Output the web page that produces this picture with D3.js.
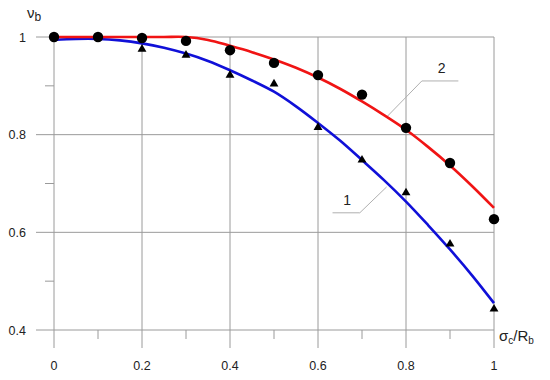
<!DOCTYPE html>
<html>
<head>
<meta charset="utf-8">
<script src="https://cdn.jsdelivr.net/npm/d3@7"></script>
<style>
  body { margin: 0; background: #fff; }
  svg text { font-family: "Liberation Sans", Arial, sans-serif; fill: #222; }
</style>
</head>
<body>
<div id="graf"></div>
<script>
// datos
xTicks = [0, 0.2, 0.4, 0.6, 0.8, 1]
xTickLabels = ['0', '0.2', '0.4', '0.6', '0.8', '1']
xMinor = [0.1, 0.3, 0.5, 0.7, 0.9]
yTicks = [0.4, 0.6, 0.8, 1]
yTickLabels = ['0.4', '0.6', '0.8', '1']
yMinor = [0.5, 0.7, 0.9]

// puntos experimentales
circX = [0, 0.1, 0.2, 0.3, 0.4, 0.5, 0.6, 0.7, 0.8, 0.9, 1]
circY = [1.0, 1.0, 0.998, 0.992, 0.973, 0.947, 0.922, 0.882, 0.814, 0.742, 0.627]
triX = [0.2, 0.3, 0.4, 0.5, 0.6, 0.7, 0.8, 0.9, 1]
triY = [0.975, 0.963, 0.922, 0.904, 0.815, 0.748, 0.681, 0.576, 0.443]

// curvas (leidas punto a punto)
curveX = [0, 0.05, 0.1, 0.15, 0.2, 0.25, 0.3, 0.35, 0.4, 0.45, 0.5, 0.55, 0.6, 0.65, 0.7, 0.75, 0.8, 0.85, 0.9, 0.95, 1]
curve2 = [1, 1, 1, 1, 1, 1, 1, 0.994, 0.982, 0.969, 0.954, 0.937, 0.917, 0.894, 0.868, 0.84, 0.81, 0.775, 0.737, 0.695, 0.65]
curve1 = [0.994, 0.996, 0.996, 0.993, 0.987, 0.978, 0.966, 0.951, 0.932, 0.911, 0.888, 0.858, 0.824, 0.788, 0.748, 0.707, 0.663, 0.615, 0.565, 0.512, 0.455]

// etiquetas de curva con lineas guia (en unidades de datos)
labels = ['1', '2']
labelPos = [[0.666, 0.656], [0.881, 0.926]]
leaders = [
  [[0.633, 0.640], [0.695, 0.640], [0.756, 0.693]],
  [[0.919, 0.910], [0.836, 0.910], [0.758, 0.838]]
]

ancho_total = 550
alto_total = 380
margins = { top: 37, left: 54, right: 56, bottom: 50 }
ancho = ancho_total - margins.left - margins.right
alto = alto_total - margins.top - margins.bottom

svg = d3.select('#graf').append('svg')
  .attr('width', ancho_total)
  .attr('height', alto_total)

g = svg.append('g')
  .attr('transform', `translate(${margins.left}, ${margins.top})`)

x = d3.scaleLinear().domain([0, 1]).range([0, ancho])
y = d3.scaleLinear().domain([0.4, 1]).range([alto, 0])

gris = '#9a9a9a'

// rejilla vertical (incluye eje y)
g.selectAll('.gx').data(xTicks).enter().append('line')
  .attr('x1', d => x(d)).attr('x2', d => x(d))
  .attr('y1', y(1)).attr('y2', y(0.4) + 18)
  .attr('stroke', gris).attr('stroke-width', 1)

// rejilla horizontal (incluye eje x)
g.selectAll('.gy').data(yTicks).enter().append('line')
  .attr('x1', x(0) - 18).attr('x2', x(1))
  .attr('y1', d => y(d)).attr('y2', d => y(d))
  .attr('stroke', gris).attr('stroke-width', 1)

// ticks menores
g.selectAll('.mx').data(xMinor).enter().append('line')
  .attr('x1', d => x(d)).attr('x2', d => x(d))
  .attr('y1', y(0.4)).attr('y2', y(0.4) + 9)
  .attr('stroke', gris)
g.selectAll('.my').data(yMinor).enter().append('line')
  .attr('x1', x(0) - 9).attr('x2', x(0))
  .attr('y1', d => y(d)).attr('y2', d => y(d))
  .attr('stroke', gris)

// etiquetas de ejes
g.selectAll('.lx').data(xTicks).enter().append('text')
  .attr('x', d => x(d)).attr('y', y(0.4) + 40)
  .attr('text-anchor', 'middle')
  .style('font-size', '12.5px')
  .text((d, i) => xTickLabels[i])
g.selectAll('.ly').data(yTicks).enter().append('text')
  .attr('x', x(0) - 28).attr('y', d => y(d) + 4.5)
  .attr('text-anchor', 'end')
  .style('font-size', '12.5px')
  .text((d, i) => yTickLabels[i])

// titulo eje y
ty = svg.append('text').attr('x', 27).attr('y', 18).style('font-size', '15px')
ty.append('tspan').text('ν')
ty.append('tspan').attr('dy', 3).style('font-size', '12px').text('b')

// titulo eje x
tx = g.append('text').attr('x', x(1) + 5).attr('y', y(0.4) + 11).style('font-size', '15px')
tx.append('tspan').text('σ')
tx.append('tspan').attr('dy', 3).style('font-size', '10px').text('c')
tx.append('tspan').attr('dy', -3).text('/R')
tx.append('tspan').attr('dy', 3).style('font-size', '10px').text('b')

// lineas guia y numeros de curva
linea = d3.line().x(d => x(d[0])).y(d => y(d[1]))
leaders.forEach(l => {
  g.append('path').attr('d', linea(l))
    .attr('fill', 'none').attr('stroke', '#b0b0b0').attr('stroke-width', 1)
})
g.selectAll('.lab').data(labels).enter().append('text')
  .attr('x', (d, i) => x(labelPos[i][0]))
  .attr('y', (d, i) => y(labelPos[i][1]))
  .attr('text-anchor', 'middle')
  .style('font-size', '14px')
  .text(d => d)

// curvas
curva = d3.line()
  .x((d, i) => x(curveX[i]))
  .y(d => y(d))
  .curve(d3.curveCatmullRom)

g.append('path').attr('d', curva(curve1))
  .attr('fill', 'none').attr('stroke', '#1010d8').attr('stroke-width', 2.6)
g.append('path').attr('d', curva(curve2))
  .attr('fill', 'none').attr('stroke', '#f01414').attr('stroke-width', 2.6)

// triangulos
g.selectAll('.tri').data(triY).enter().append('path')
  .attr('d', d3.symbol().type(d3.symbolTriangle).size(34))
  .attr('transform', (d, i) => `translate(${x(triX[i])}, ${y(d)})`)
  .attr('fill', '#000')

// circulos
g.selectAll('.circ').data(circY).enter().append('circle')
  .attr('cx', (d, i) => x(circX[i]))
  .attr('cy', d => y(d))
  .attr('r', 5.2)
  .attr('fill', '#000')
</script>
</body>
</html>
